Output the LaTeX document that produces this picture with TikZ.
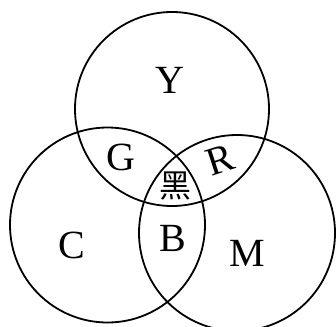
\documentclass[tikz,border=0pt]{standalone}
\usepackage{fontspec}
\setmainfont{Liberation Serif}
\newfontfamily\cjk{Noto Sans CJK SC}
\begin{document}
\begin{tikzpicture}[x=1pt,y=-1pt,
  ring/.style={draw,line width=1.8pt},
  lbl/.style={font=\fontsize{40}{40}\selectfont, inner sep=0pt}]
\useasboundingbox (0,0) rectangle (336,326);
\begin{scope}
\clip (0,0) rectangle (336,326);
\draw[ring] (172,109) circle (97);
\draw[ring] (107.5,225) circle (97.5);
\draw[ring] (237,233) circle (98);
\end{scope}
\node[lbl] (Y) at (170,80) {Y};
\node[lbl] (G) at (121,157) {G};
\node[lbl,rotate=18] (R) at (220,160) {R};
\node[inner sep=0pt,font=\cjk\fontsize{32}{32}\selectfont] (K) at (175,186) {黑};
\node[lbl] (C) at (72,245) {C};
\node[lbl] (B) at (173,238) {B};
\node[lbl] (M) at (247,253) {M};
\end{tikzpicture}
\end{document}
